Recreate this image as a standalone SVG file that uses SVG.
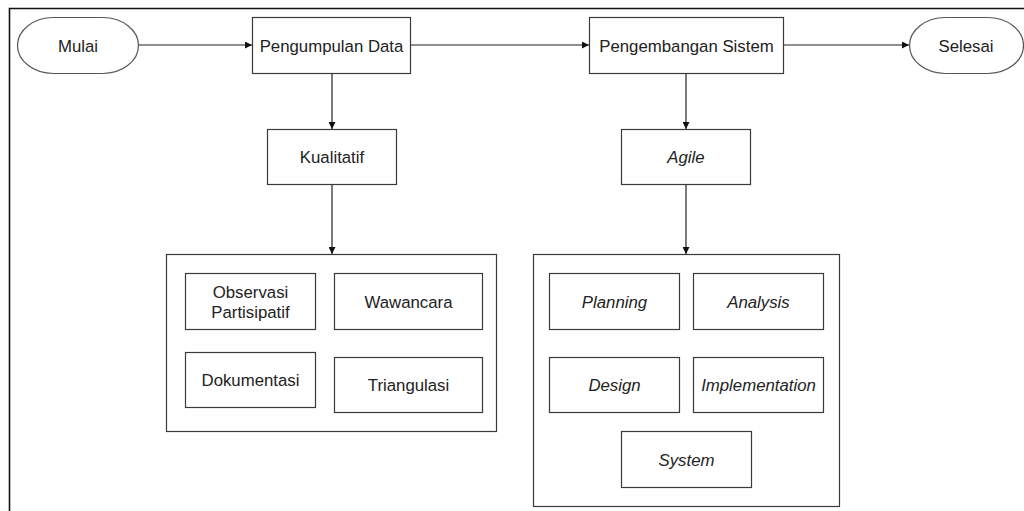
<svg xmlns="http://www.w3.org/2000/svg" width="1024" height="511" viewBox="0 0 1024 511">
<defs>
<style>
.box{fill:#fff;stroke:#3a3a3a;stroke-width:1.2}
.term{fill:#fff;stroke:#555;stroke-width:1.2}
.t{font-family:"Liberation Sans",Arial,sans-serif;font-size:16.8px;fill:#222;text-anchor:middle}
.i{font-style:italic}
.edge{stroke:#222;stroke-width:1.2;fill:none;marker-end:url(#ah)}
</style>
<marker id="ah" viewBox="0 0 10 10" refX="10" refY="5" markerWidth="7" markerHeight="7" markerUnits="userSpaceOnUse" orient="auto">
<path d="M0,0 L10,5 L0,10 z" fill="#111"/>
</marker>
</defs>
<rect x="0" y="0" width="1024" height="511" fill="#fff"/>
<path d="M9.5,520 V8.5 H1030" fill="none" stroke="#111" stroke-width="1.6"/>

<g id="connectors">
<line class="edge" x1="138" y1="45" x2="252" y2="45"/>
<line class="edge" x1="411" y1="45" x2="589" y2="45"/>
<line class="edge" x1="784" y1="45" x2="909" y2="45"/>
<line class="edge" x1="332" y1="73" x2="332" y2="129"/>
<line class="edge" x1="332" y1="184" x2="332" y2="254"/>
<line class="edge" x1="686" y1="73" x2="686" y2="129"/>
<line class="edge" x1="686" y1="184" x2="686" y2="254"/>
</g>

<g id="mulai"><rect class="term" x="17.5" y="17.5" width="121" height="56" rx="36" ry="28"/><text class="t" x="78" y="52">Mulai</text></g>
<g id="pengumpulan"><rect class="box" x="252.5" y="17.5" width="158" height="56"/><text class="t" x="331.5" y="52">Pengumpulan Data</text></g>
<g id="pengembangan"><rect class="box" x="589.5" y="17.5" width="194" height="56"/><text class="t" x="686.5" y="52">Pengembangan Sistem</text></g>
<g id="selesai"><rect class="term" x="909.5" y="17.5" width="114" height="56" rx="36" ry="28"/><text class="t" x="966" y="52">Selesai</text></g>
<g id="kualitatif"><rect class="box" x="267.5" y="129.5" width="129" height="55"/><text class="t" x="332" y="163">Kualitatif</text></g>
<g id="agile"><rect class="box" x="621.5" y="129.5" width="129" height="55"/><text class="t i" x="686" y="163">Agile</text></g>

<g id="grup-kualitatif"><rect class="box" x="166.5" y="254.5" width="330" height="177"/></g>
<g id="observasi"><rect class="box" x="185.5" y="273.5" width="130" height="56"/><text class="t" x="250.5" y="298">Observasi</text><text class="t" x="250.5" y="318">Partisipatif</text></g>
<g id="wawancara"><rect class="box" x="334.5" y="273.5" width="148" height="56"/><text class="t" x="408.5" y="308">Wawancara</text></g>
<g id="dokumentasi"><rect class="box" x="185.5" y="352.5" width="130" height="55"/><text class="t" x="250.5" y="386">Dokumentasi</text></g>
<g id="triangulasi"><rect class="box" x="334.5" y="357.5" width="148" height="55"/><text class="t" x="408.5" y="391">Triangulasi</text></g>

<g id="grup-agile"><rect class="box" x="533.5" y="254.5" width="306" height="252"/></g>
<g id="planning"><rect class="box" x="549.5" y="273.5" width="130" height="56"/><text class="t i" x="614.5" y="308">Planning</text></g>
<g id="analysis"><rect class="box" x="693.5" y="273.5" width="130" height="56"/><text class="t i" x="758.5" y="308">Analysis</text></g>
<g id="design"><rect class="box" x="549.5" y="357.5" width="130" height="55"/><text class="t i" x="614.5" y="391">Design</text></g>
<g id="implementation"><rect class="box" x="693.5" y="357.5" width="130" height="55"/><text class="t i" x="758.5" y="391">Implementation</text></g>
<g id="system"><rect class="box" x="621.5" y="431.5" width="130" height="56"/><text class="t i" x="686.5" y="466">System</text></g>
</svg>
